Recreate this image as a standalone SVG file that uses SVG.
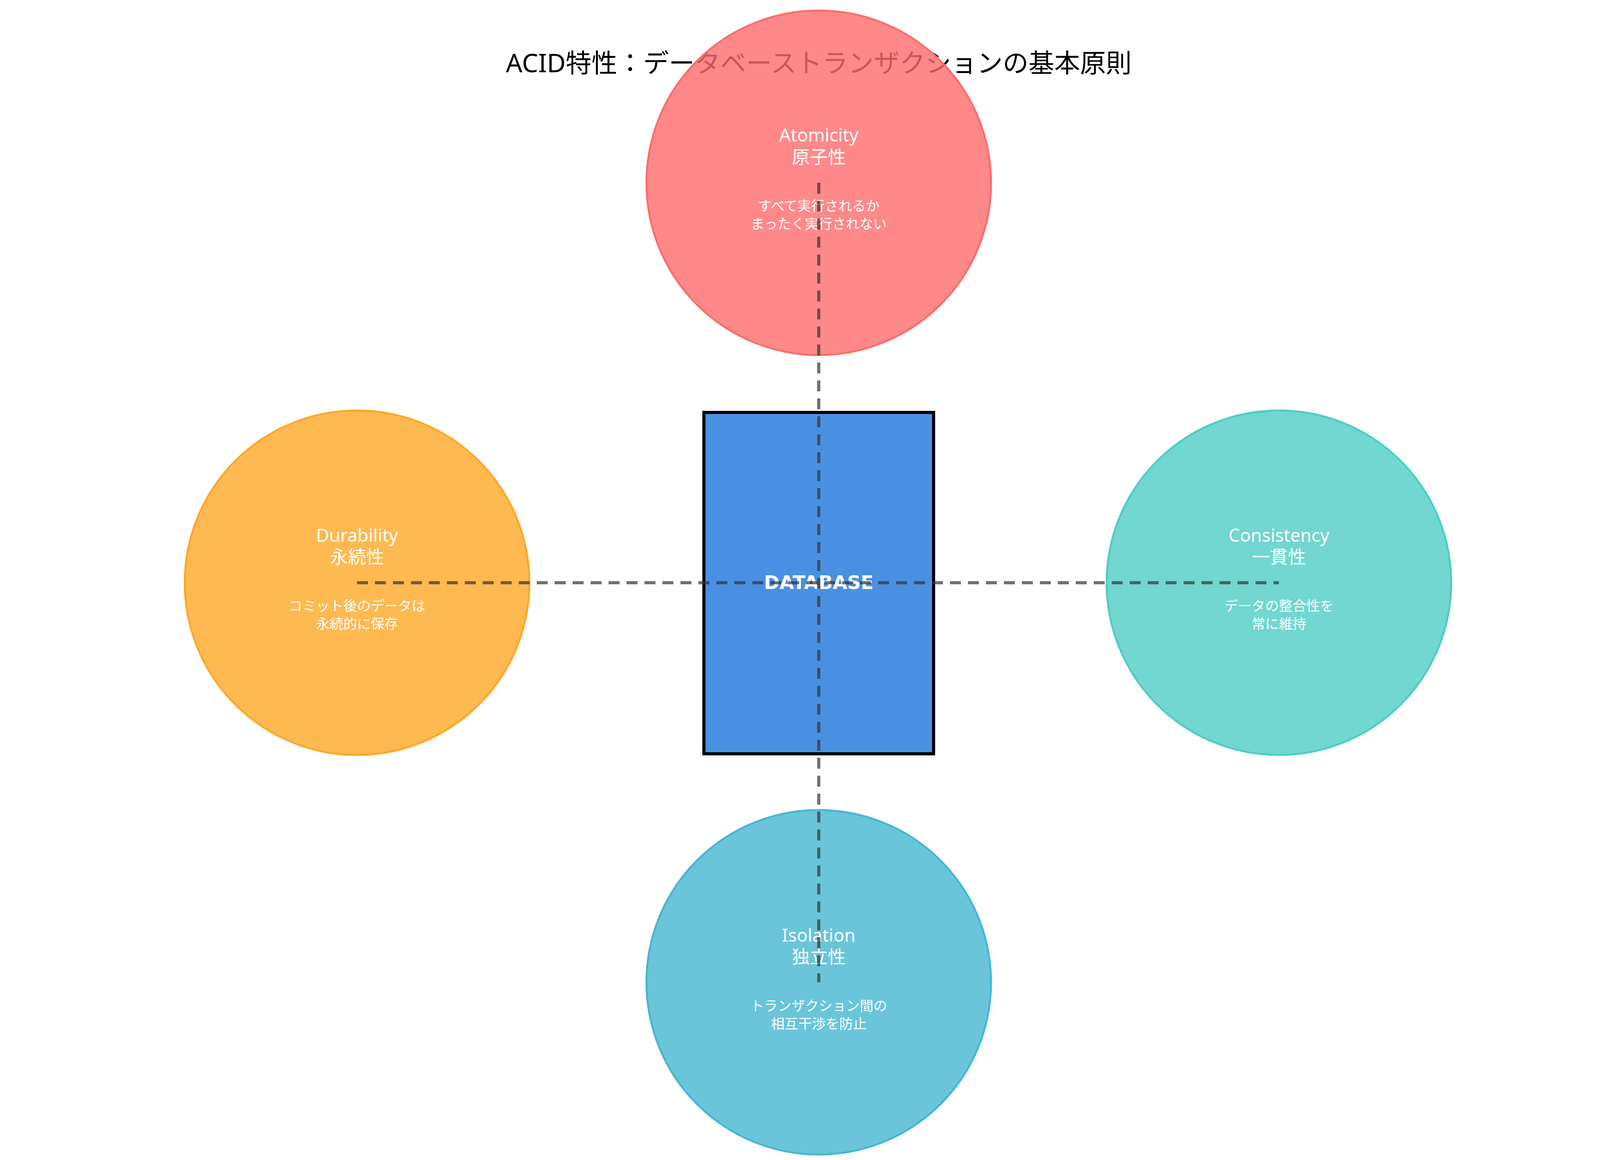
<svg xmlns="http://www.w3.org/2000/svg" width="4170" height="2970" viewBox="0 0 4170 2970">
<style>
.c{stroke-width:5}
.t{font-family:"Noto Sans","Noto Sans CJK JP",sans-serif;fill:#fff;text-anchor:middle}
.n{font-size:46px}
.d{font-size:35px}
.db{font-family:"DejaVu Sans",sans-serif;font-size:48px;font-weight:bold;fill:#fff;text-anchor:middle}
.conn{stroke:#333;stroke-opacity:0.7;stroke-width:8;stroke-dasharray:28,18;fill:none}
</style>
<rect width="4170" height="2970" fill="#fff"/>
<text x="2096" y="185" font-family="Noto Sans,Noto Sans CJK JP,sans-serif" font-size="66" text-anchor="middle" fill="#000">ACID特性：データベーストランザクションの基本原則</text>
<g id="atomicity">
<circle class="c" cx="2096" cy="468" r="441" fill="#FF6B6B" fill-opacity="0.8" stroke="#FF6B6B"/>
<text class="t n" x="2096" y="362">Atomicity</text>
<text class="t n" x="2096" y="418">原子性</text>
<text class="t d" x="2096" y="540">すべて実行されるか</text>
<text class="t d" x="2096" y="586">まったく実行されない</text>
</g>
<g id="consistency">
<circle class="c" cx="3274" cy="1492" r="441" fill="#4ECDC4" fill-opacity="0.8" stroke="#4ECDC4"/>
<text class="t n" x="3274" y="1387">Consistency</text>
<text class="t n" x="3274" y="1442">一貫性</text>
<text class="t d" x="3274" y="1564">データの整合性を</text>
<text class="t d" x="3274" y="1610">常に維持</text>
</g>
<g id="isolation">
<circle class="c" cx="2096" cy="2515" r="441" fill="#45B7D1" fill-opacity="0.8" stroke="#45B7D1"/>
<text class="t n" x="2096" y="2411">Isolation</text>
<text class="t n" x="2096" y="2466">独立性</text>
<text class="t d" x="2096" y="2588">トランザクション間の</text>
<text class="t d" x="2096" y="2634">相互干渉を防止</text>
</g>
<g id="durability">
<circle class="c" cx="914" cy="1492" r="441" fill="#FFA726" fill-opacity="0.8" stroke="#FFA726"/>
<text class="t n" x="914" y="1387">Durability</text>
<text class="t n" x="914" y="1442">永続性</text>
<text class="t d" x="914" y="1564">コミット後のデータは</text>
<text class="t d" x="914" y="1610">永続的に保存</text>
</g>
<g id="database">
<rect x="1802" y="1056" width="588" height="874" fill="#4A90E2" stroke="#000" stroke-width="8"/>
<text class="db" x="2096" y="1508">DATABASE</text>
</g>
<g id="connectors">
<line class="conn" x1="2096" y1="468" x2="2096" y2="2515"/>
<line class="conn" x1="914" y1="1492" x2="3274" y2="1492"/>
</g>
</svg>
